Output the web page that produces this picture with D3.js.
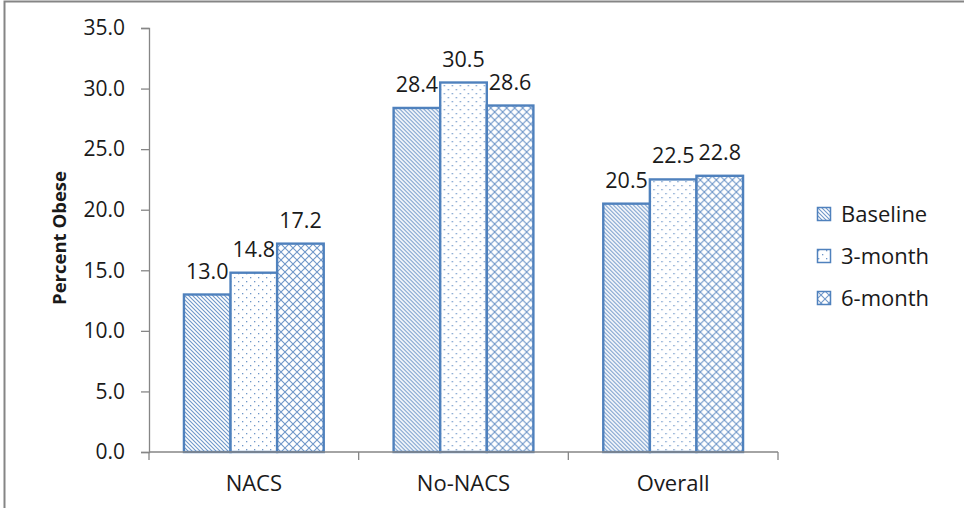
<!DOCTYPE html>
<html>
<head>
<meta charset="utf-8">
<script src="https://cdn.jsdelivr.net/npm/d3@7"></script>
<style>
  html, body { margin: 0; padding: 0; background: #fff; }
  svg { display: block; }
  text { font-family: "Open Sans", Lato, sans-serif; fill: #1a1a1a; }
</style>
</head>
<body>
<svg id="chart" width="964" height="508"></svg>
<script>
// Percent obese by group and time point
const categories = ["NACS", "No-NACS", "Overall"];
const seriesNames = ["Baseline", "3-month", "6-month"];
const baseline = [13.0, 28.4, 20.5];
const month3 = [14.8, 30.5, 22.5];
const month6 = [17.2, 28.6, 22.8];
const yTicks = [0, 5, 10, 15, 20, 25, 30, 35];

const seriesValues = [baseline, month3, month6];
const blue = "#4F81BD";
const hatch = "#6f97c9";

const svg = d3.select("#chart");
const defs = svg.append("defs");

// Fill patterns: wide downward diagonal, dotted, diagonal crosshatch
const pDiag = defs.append("pattern").attr("id", "pat0")
  .attr("patternUnits", "userSpaceOnUse").attr("width", 4).attr("height", 4);
pDiag.append("rect").attr("width", 4).attr("height", 4).attr("fill", "#fff");
pDiag.append("path").attr("d", "M-1,-1 L5,5 M-1,3 L1,5 M3,-1 L5,1")
  .attr("stroke", hatch).attr("stroke-width", 1.1);

const pDot = defs.append("pattern").attr("id", "pat1")
  .attr("patternUnits", "userSpaceOnUse").attr("width", 8).attr("height", 8);
pDot.append("rect").attr("width", 8).attr("height", 8).attr("fill", "#fff");
pDot.append("rect").attr("x", 1).attr("y", 1).attr("width", 1.3).attr("height", 1.3).attr("fill", hatch);
pDot.append("rect").attr("x", 5).attr("y", 5).attr("width", 1.3).attr("height", 1.3).attr("fill", hatch);

const pCross = defs.append("pattern").attr("id", "pat2")
  .attr("patternUnits", "userSpaceOnUse").attr("width", 8).attr("height", 8);
pCross.append("rect").attr("width", 8).attr("height", 8).attr("fill", "#fff");
pCross.append("path").attr("d", "M0,0 L8,8 M8,0 L0,8")
  .attr("stroke", hatch).attr("stroke-width", 1.1);

// Outer frame (only top and left edges fall inside the view)
svg.append("rect").attr("x", 4.5).attr("y", 1.5).attr("width", 1000).attr("height", 600)
  .attr("fill", "none").attr("stroke", "#858585").attr("stroke-width", 2);

const plot = { left: 149, right: 778, top: 28, bottom: 452 };

const x0 = d3.scaleBand().domain(categories).range([plot.left, plot.right]).paddingInner(0).paddingOuter(0);
const x1 = d3.scaleBand().domain(seriesNames).range([0, x0.bandwidth()]).paddingInner(0).paddingOuter(0.75);
const y = d3.scaleLinear().domain([0, 35]).range([plot.bottom, plot.top]);

const g = svg.append("g");

// Y axis
const yAxis = g.append("g").attr("transform", `translate(${plot.left},0)`)
  .call(d3.axisLeft(y).tickValues(yTicks).tickFormat(d3.format(".1f")).tickSize(8).tickPadding(16));
yAxis.select(".domain").attr("stroke", "#868686").attr("stroke-width", 1.3);
yAxis.selectAll(".tick line").attr("stroke", "#868686").attr("stroke-width", 1.3);
yAxis.selectAll(".tick text").attr("font-size", 21).attr("fill", "#1a1a1a")
  .style("font-family", "'Open Sans', Lato, sans-serif");

// Bars
const groups = g.selectAll(".grp").data(categories).enter().append("g")
  .attr("transform", d => `translate(${x0(d)},0)`);

seriesNames.forEach((s, si) => {
  groups.append("rect")
    .attr("x", x1(s))
    .attr("y", (d, ci) => y(seriesValues[si][ci]))
    .attr("width", x1.bandwidth())
    .attr("height", (d, ci) => y(0) - y(seriesValues[si][ci]))
    .attr("fill", `url(#pat${si})`)
    .attr("stroke", blue).attr("stroke-width", 2.4);
});

// Data labels
seriesNames.forEach((s, si) => {
  groups.append("text")
    .attr("x", x1(s) + x1.bandwidth() / 2)
    .attr("y", (d, ci) => y(seriesValues[si][ci]) - 16)
    .attr("text-anchor", "middle")
    .attr("font-size", 21.5)
    .text((d, ci) => d3.format(".1f")(seriesValues[si][ci]));
});

// X axis
const xAxis = g.append("g").attr("transform", `translate(0,${plot.bottom})`);
xAxis.append("line").attr("x1", plot.left).attr("x2", plot.right)
  .attr("stroke", "#868686").attr("stroke-width", 1.3);
const bounds = [plot.left].concat(categories.map(c => x0(c) + x0.bandwidth()));
xAxis.selectAll(".xtick").data(bounds).enter().append("line")
  .attr("x1", d => d).attr("x2", d => d).attr("y1", 0).attr("y2", 8)
  .attr("stroke", "#868686").attr("stroke-width", 1.3);
xAxis.selectAll(".xlab").data(categories).enter().append("text")
  .attr("x", d => x0(d) + x0.bandwidth() / 2)
  .attr("y", 39)
  .attr("text-anchor", "middle")
  .attr("font-size", 22)
  .text(d => d);

// Y axis title
svg.append("text")
  .attr("transform", `translate(66,238) rotate(-90)`)
  .attr("text-anchor", "middle")
  .attr("font-size", 18.5).attr("font-weight", "bold")
  .text("Percent Obese");

// Legend
const legend = svg.append("g").attr("transform", "translate(817,207)");
seriesNames.forEach((s, i) => {
  const row = legend.append("g").attr("transform", `translate(0,${i * 42})`);
  row.append("rect").attr("x", 0.5).attr("y", 0.5).attr("width", 13).attr("height", 13)
    .attr("fill", `url(#pat${i})`).attr("stroke", blue).attr("stroke-width", 1.5);
  row.append("text").attr("x", 24).attr("y", 7).attr("dy", "0.35em")
    .attr("font-size", 22).text(s);
});
</script>
</body>
</html>
